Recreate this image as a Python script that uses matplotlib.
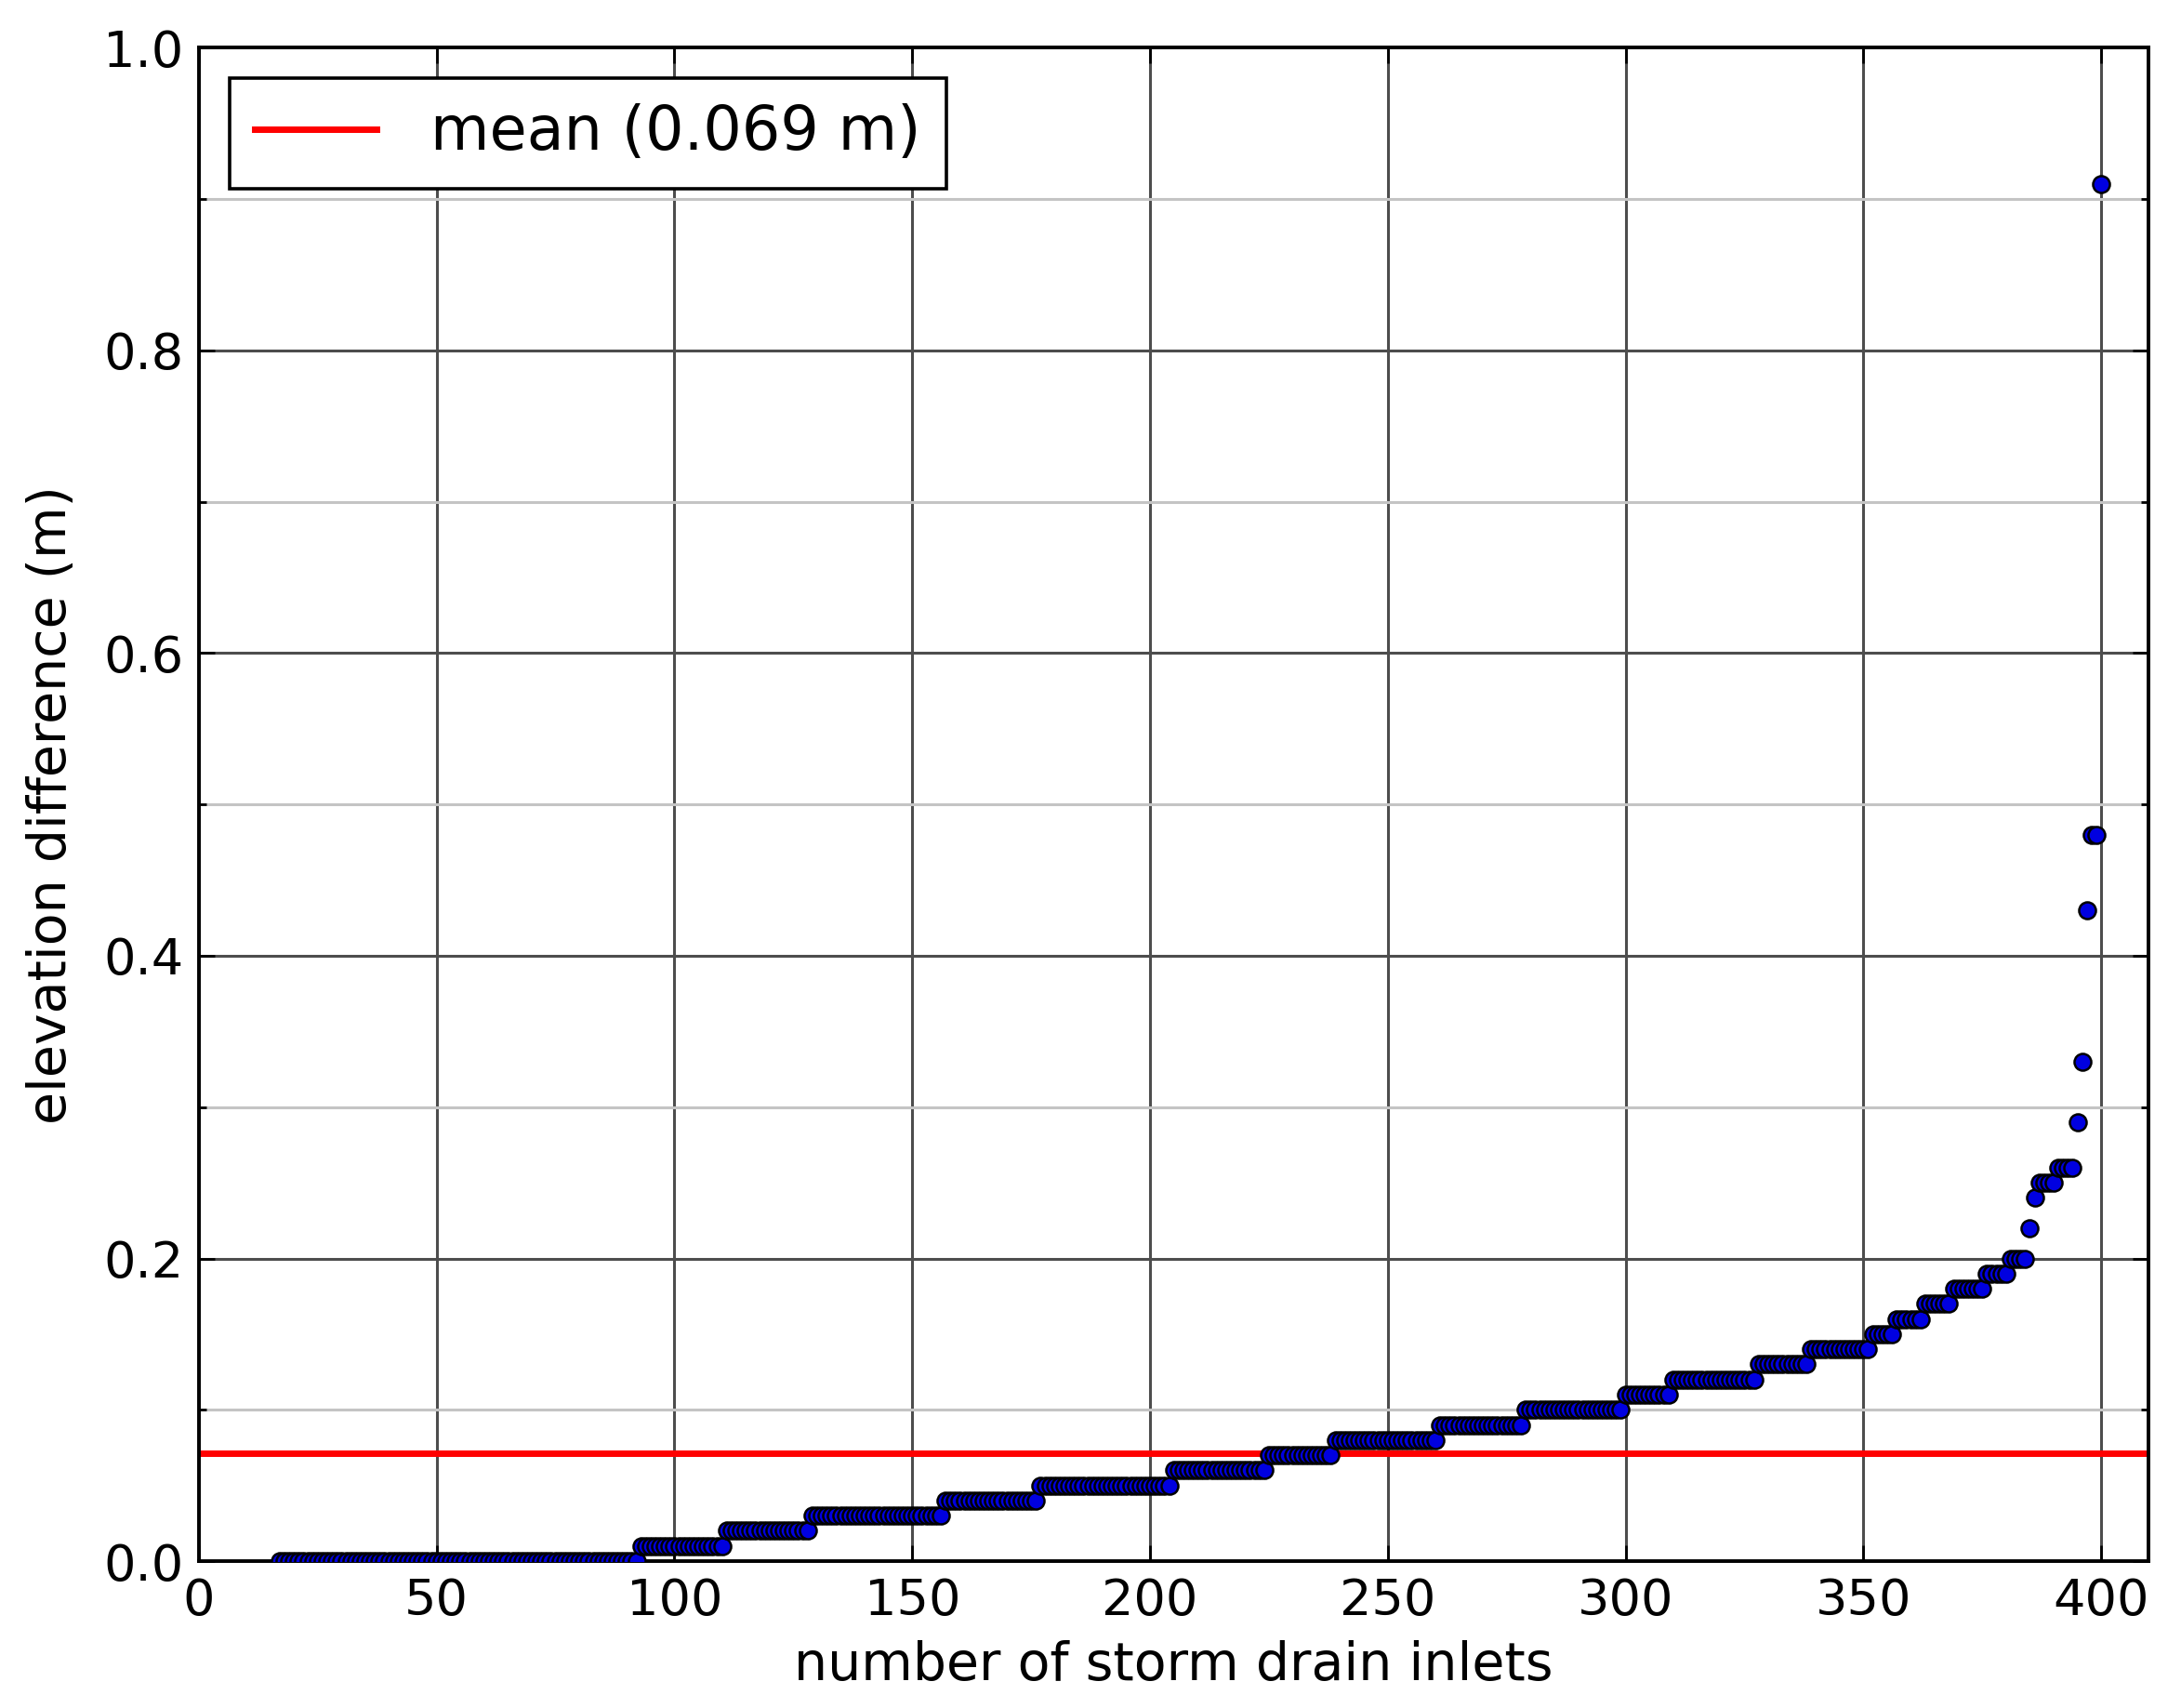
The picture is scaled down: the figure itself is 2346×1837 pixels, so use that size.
import matplotlib
matplotlib.use("Agg")
import matplotlib.pyplot as plt
import numpy as np

# sorted elevation differences, stored as runs of equal values
first_inlet = 17
step_values = [0.00, 0.01, 0.02, 0.03, 0.04, 0.05, 0.06, 0.07, 0.08, 0.09,
               0.10, 0.11, 0.12, 0.13, 0.14, 0.15, 0.16, 0.17, 0.18, 0.19,
               0.20, 0.22, 0.24, 0.25, 0.26, 0.29, 0.33, 0.43, 0.48, 0.91]
step_counts = [76, 18, 18, 28, 20, 28, 20, 14, 22, 18,
               21, 10, 18, 11, 13, 5, 6, 6, 7, 5,
               4, 1, 1, 4, 4, 1, 1, 1, 2, 1]
mean_value = 0.071
mean_label = "mean (0.069 m)"

elev = np.repeat(step_values, step_counts)
inlets = np.arange(first_inlet, first_inlet + len(elev))

fig = plt.figure(figsize=(11.73, 9.185), dpi=200)
ax = fig.add_axes([0.0912, 0.086, 0.894, 0.886])

ax.plot(inlets, elev, "o", color="#0000e0", markeredgecolor="black",
        markeredgewidth=0.9, markersize=6.5, zorder=3)
ax.axhline(mean_value, color="red", lw=2.5, label=mean_label, zorder=2)

ax.set_xlim(0, 410)
ax.set_ylim(0, 1.0)
ax.set_xticks(np.arange(0, 401, 50))
ax.set_yticks(np.arange(0, 1.01, 0.2))
ax.set_yticks(np.arange(0.1, 1.0, 0.2), minor=True)
ax.grid(True, which="major", color="#4d4d4d", lw=1.1, zorder=0)
ax.grid(True, which="minor", axis="y", color="#c4c4c4", lw=1.1, zorder=0)
ax.set_axisbelow(True)

ax.tick_params(direction="in", length=6, width=1, labelsize=19.5,
               top=True, right=True, pad=6)
ax.tick_params(which="minor", direction="in", length=3, width=1,
               left=True, right=True)
for s in ax.spines.values():
    s.set_linewidth(1.4)

ax.set_xlabel("number of storm drain inlets", fontsize=20.5, labelpad=6)
ax.set_ylabel("elevation difference (m)", fontsize=20.5, labelpad=10)

leg = ax.legend(loc="upper left", fontsize=23.5, fancybox=False, framealpha=1,
                edgecolor="black", borderaxespad=0.5, handlelength=2.0,
                borderpad=0.42, handletextpad=0.9)
leg.get_frame().set_linewidth(1.3)

fig.savefig("out.png", dpi=200)
